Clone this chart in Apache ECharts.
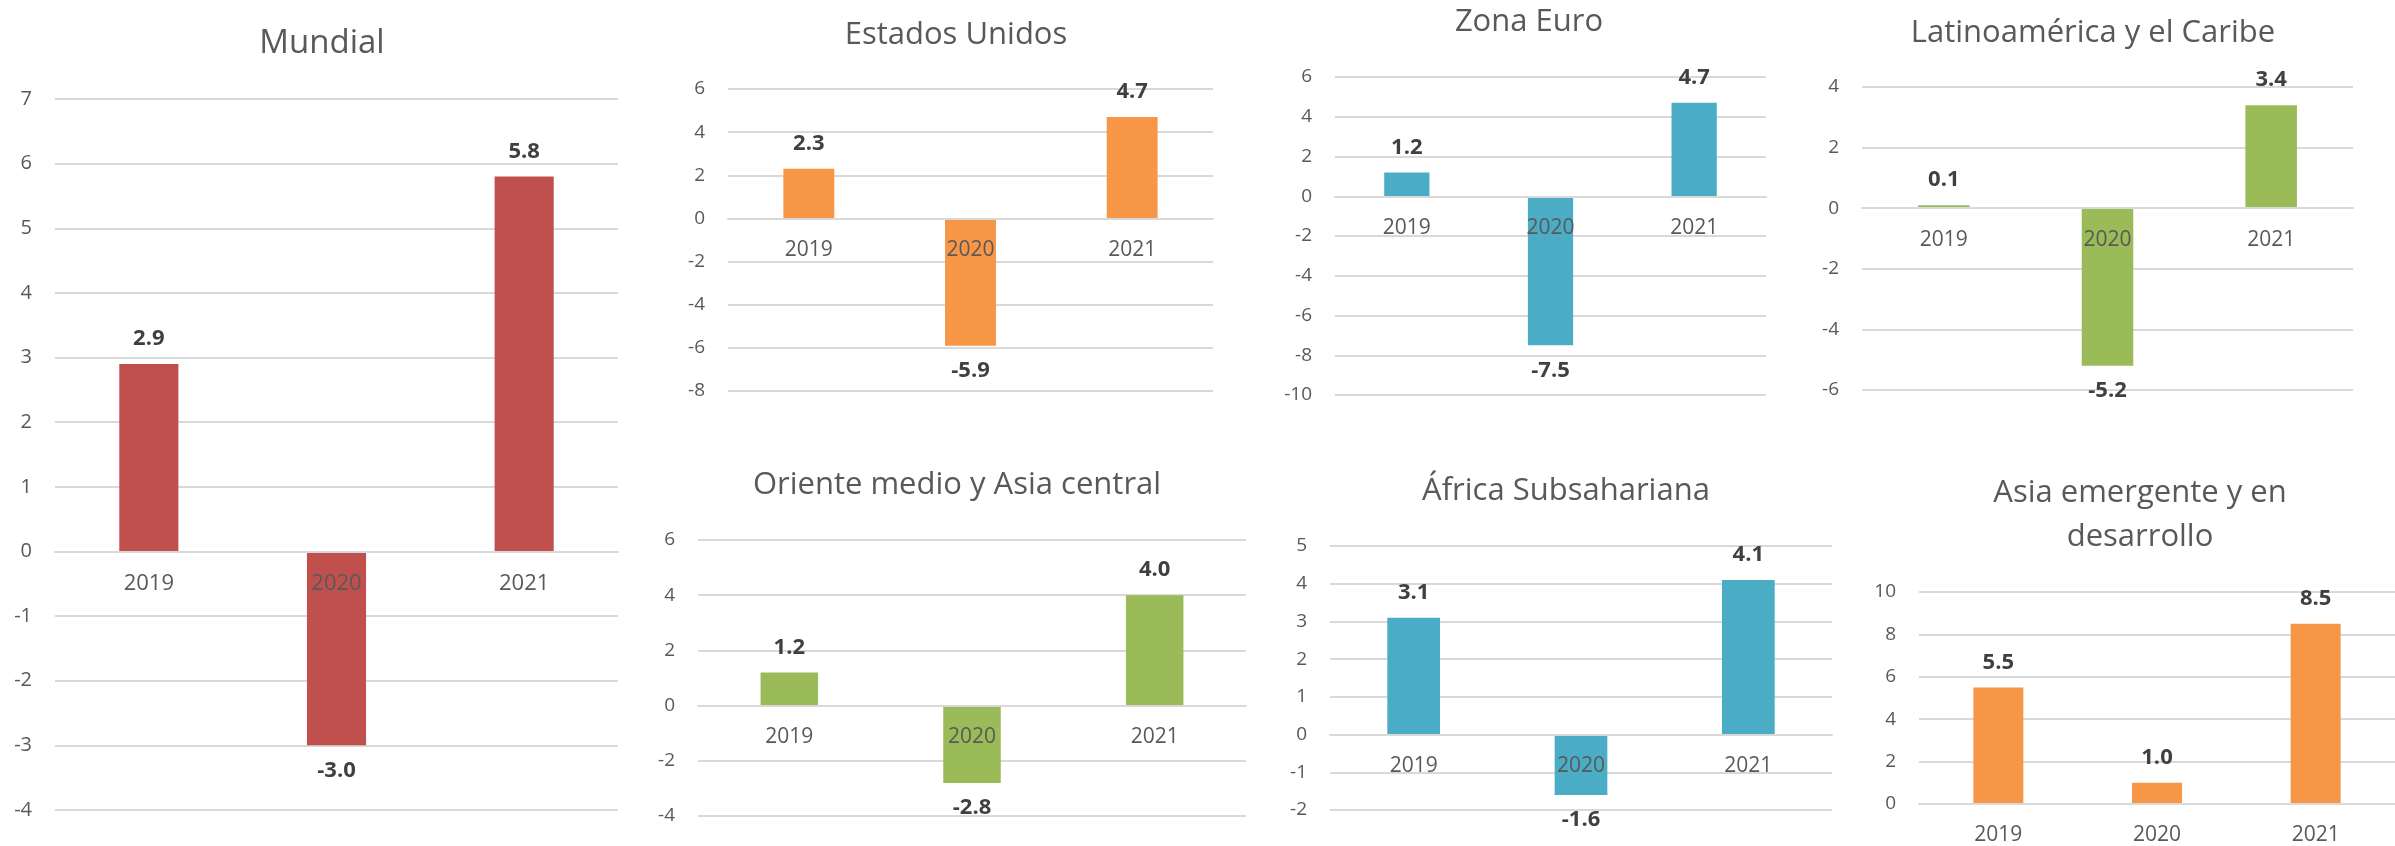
<!DOCTYPE html>
<html>
<head>
<meta charset="utf-8">
<title>Crecimiento</title>
<script src="https://cdn.jsdelivr.net/npm/echarts@6/dist/echarts.min.js"></script>
<style>
  html, body { margin: 0; padding: 0; background: #fff; }
  #main { width: 2395px; height: 846px; }
</style>
</head>
<body>
<div id="main"></div>
<script>
let years = ["2019", "2020", "2021"];

let mundial = [2.9, -3.0, 5.8];
let estadosUnidos = [2.3, -5.9, 4.7];
let zonaEuro = [1.2, -7.5, 4.7];
let latinoamerica = [0.1, -5.2, 3.4];
let orienteMedio = [1.2, -2.8, 4.0];
let africa = [3.1, -1.6, 4.1];
let asiaEmergente = [5.5, 1.0, 8.5];

// escalas del eje y de cada panel: [min, max, intervalo]
let ejeMundial = [-4, 7, 1];
let ejeEstados = [-8, 6, 2];
let ejeZona = [-10, 6, 2];
let ejeLatam = [-6, 4, 2];
let ejeOriente = [-4, 6, 2];
let ejeAfrica = [-2, 5, 1];
let ejeAsia = [0, 10, 2];

let rojo = "#C0504D",
  naranja = "#F79646",
  azul = "#4BACC6",
  verde = "#9BBB59";

let paneles = [
  { titulo: "Mundial", datos: mundial, eje: ejeMundial, color: rojo,
    grid: { left: 55, top: 99, width: 563, height: 711 }, tx: 322, ty: 44, tSize: 33, ySize: 20, xSize: 22 },
  { titulo: "Estados Unidos", datos: estadosUnidos, eje: ejeEstados, color: naranja,
    grid: { left: 728, top: 89, width: 485, height: 302 }, tx: 956, ty: 35 },
  { titulo: "Zona Euro", datos: zonaEuro, eje: ejeZona, color: azul,
    grid: { left: 1335, top: 77, width: 431, height: 318 }, tx: 1529, ty: 22 },
  { titulo: "Latinoamérica y el Caribe", datos: latinoamerica, eje: ejeLatam, color: verde,
    grid: { left: 1862, top: 87, width: 491, height: 303 }, tx: 2093, ty: 33 },
  { titulo: "Oriente medio y Asia central", datos: orienteMedio, eje: ejeOriente, color: verde,
    grid: { left: 698, top: 540, width: 548, height: 276 }, tx: 957, ty: 485 },
  { titulo: "África Subsahariana", datos: africa, eje: ejeAfrica, color: azul,
    grid: { left: 1330, top: 546, width: 502, height: 264 }, tx: 1566, ty: 491 },
  { titulo: "Asia emergente y en\ndesarrollo", datos: asiaEmergente, eje: ejeAsia, color: naranja,
    grid: { left: 1919, top: 592, width: 476, height: 212 }, tx: 2140, ty: 515 },
];

let chart = echarts.init(document.getElementById("main"));

let grids = [],
  xAxes = [],
  yAxes = [],
  series = [],
  textos = [];

paneles.forEach(function (p, i) {
  let min = p.eje[0],
    max = p.eje[1];
  // el eje de categorías va sobre la línea del cero
  let subida = (p.grid.height * (0 - min)) / (max - min);

  grids.push(p.grid);
  xAxes.push({
    type: "category",
    gridIndex: i,
    data: years,
    position: "bottom",
    offset: -subida,
    z: 5, // etiquetas por encima de las barras
    axisLine: { show: true, onZero: false, lineStyle: { color: "#D9D9D9", width: 2 } },
    axisTick: { show: false },
    axisLabel: { color: "#595959", fontSize: p.xSize || 21, margin: 21 },
  });
  yAxes.push({
    type: "value",
    gridIndex: i,
    min: min,
    max: max,
    interval: p.eje[2],
    axisLine: { show: false },
    axisTick: { show: false },
    axisLabel: { color: "#595959", fontSize: p.ySize || 19, margin: 23 },
    splitLine: { lineStyle: { color: "#D9D9D9", width: 2 } },
  });
  series.push({
    type: "bar",
    xAxisIndex: i,
    yAxisIndex: i,
    barWidth: "31.5%",
    data: p.datos,
    itemStyle: { color: p.color },
    label: {
      show: true,
      position: "outside",
      distance: 14,
      color: "#404040",
      fontSize: 22,
      fontWeight: "bold",
      formatter: function (params) {
        return params.value.toFixed(1);
      },
    },
  });
  textos.push({
    type: "text",
    x: p.tx,
    y: p.ty,
    style: {
      text: p.titulo,
      fill: "#595959",
      fontSize: p.tSize || 31,
      fontFamily: "Open Sans",
      lineHeight: 44,
      align: "center",
      verticalAlign: "middle",
      textAlign: "center",
      textVerticalAlign: "middle",
    },
  });
});

let option = {
  animation: false,
  backgroundColor: "#fff",
  textStyle: { fontFamily: "Open Sans" },
  graphic: textos,
  grid: grids,
  xAxis: xAxes,
  yAxis: yAxes,
  series: series,
};

chart.setOption(option);
</script>
</body>
</html>
